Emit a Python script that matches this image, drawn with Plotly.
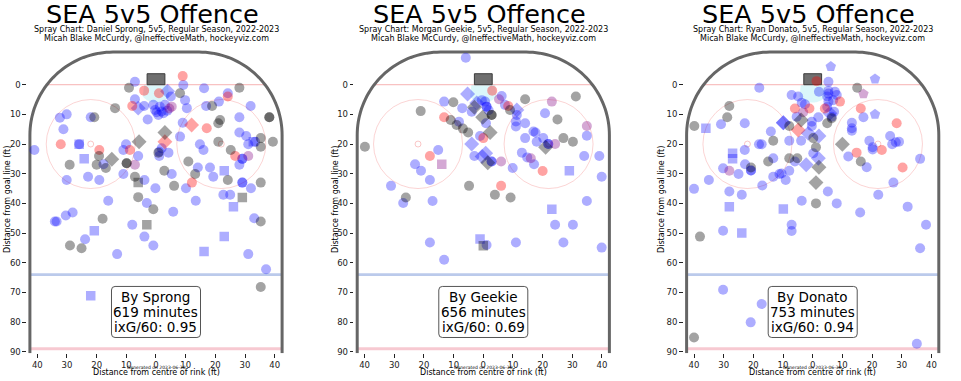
import numpy as np
import plotly.graph_objects as go

# ---------------- data ----------------
team_title = "SEA 5v5 Offence"
players = ["Daniel Sprong", "Morgan Geekie", "Ryan Donato"]
short_names = ["Sprong", "Geekie", "Donato"]
minutes = [619, 656, 753]
ixg60 = [0.95, 0.69, 0.94]
season = "2022-2023"
generated = "Generated on 2023-06-30"
x_tick_vals = [-40, -30, -20, -10, 0, 10, 20, 30, 40]
x_tick_text = ["40", "30", "20", "10", "0", "10", "20", "30", "40"]
y_tick_vals = [0, 10, 20, 30, 40, 50, 60, 70, 80, 90]

# Panel 1 : Sprong  (x = ft from centre, y = ft from goal line)
sprong_blue_circle = [(-7.1,-1.0),(9.2,0.1),(5.0,4.0),(16.2,1.2),(24.2,2.9),(-7.1,4.9),(-4.0,7.2),(-0.9,6.8),(-0.3,8.5),(1.3,7.4),(2.5,9.6),(3.0,6.8),(0.8,10.2),(1.9,9.0),(3.8,8.8),(0.2,9.3),(9.8,5.2),(10.4,7.9),(16.9,7.2),(21.2,5.7),(31.9,7.2),(-30.1,10.0),(-32.4,11.1),(-22.0,11.0),(-2.8,11.7),(9.0,12.8),(28.1,11.0),(-31.2,15.0),(28.1,16.1),(30.4,17.3),(-41.0,22.0),(-25.9,20.1),(-10.1,20.1),(-11.0,22.0),(-6.0,24.0),(-17.7,26.8),(-11.0,30.1),(-3.9,32.1),(-30.1,32.1),(-22.9,31.0),(-19.1,32.1),(1.1,24.0),(1.9,21.4),(1.1,22.6),(4.2,22.9),(5.3,30.1),(-0.2,34.9),(-16.1,39.1),(-3.1,39.9),(5.8,42.8),(8.1,17.5),(10.1,34.9),(13.4,39.1),(14.1,27.9),(14.8,20.1),(16.0,22.0),(18.2,27.9),(19.3,31.0),(29.1,25.0),(29.1,25.0),(28.1,27.0),(29.1,33.0),(29.1,33.0),(22.7,37.1),(25.0,37.1),(32.0,34.9),(31.1,20.1),(33.4,19.2),(-34.1,46.1),(-33.5,46.1),(-30.4,44.1),(-28.1,43.1),(-23.9,52.1),(-8.0,47.2),(-3.9,51.2),(-0.9,54.2),(-13.1,57.1),(33.1,45.0),(31.1,57.1),(37.1,62.2)]
sprong_blue_square = [(-25.9,20.1),(-24.2,25.0),(23.0,29.0),(26.1,41.1),(-20.8,49.2),(16.2,56.2),(23.0,51.2),(-22.0,71.1),(32.8,19.2)]
sprong_blue_diamond = [(-6.0,7.9),(3.9,2.2)]
sprong_red_circle = [(9.0,-2.9),(-4.0,2.0),(1.0,2.9),(24.2,4.0),(-8.0,7.2),(17.1,14.7),(-32.1,20.1),(-19.1,22.0),(-8.8,22.0),(26.7,24.0),(12.1,33.0)]
sprong_red_diamond = [(12.0,13.6),(3.0,19.2)]
sprong_purple_circle = [(5.3,7.4),(31.1,24.0),(-7.1,27.0),(4.5,8.0)]
sprong_grey_circle = [(-9.1,1.0),(8.1,2.9),(28.1,1.0),(18.9,7.2),(-13.8,7.9),(38.2,11.0),(38.2,11.0),(-20.8,11.0),(21.6,11.9),(21.0,13.0),(35.3,18.0),(35.3,20.9),(39.4,19.2),(21.0,19.2),(25.2,22.0),(10.9,25.9),(-19.2,24.0),(-29.1,27.0),(-20.0,27.0),(-16.9,28.1),(-9.9,26.5),(-9.9,26.5),(-7.1,31.0),(0.8,22.9),(2.8,29.0),(6.1,34.1),(-6.0,37.9),(-0.9,42.0),(13.2,30.1),(24.2,32.1),(35.3,33.0),(-18.0,45.2),(-29.0,54.2),(-25.1,55.1),(35.3,46.1),(35.3,68.2)]
sprong_grey_square = [(-6.0,33.0),(29.1,38.0),(-3.1,47.2)]
sprong_grey_diamond = [(3.0,16.1),(-5.7,19.2),(-14.9,25.1)]

# Panel 2 : Geekie
geekie_blue_circle = [(-5.9,-9.1),(6.2,3.8),(-13.2,5.7),(-0.5,5.2),(0.6,5.7),(1.1,7.4),(1.1,7.4),(1.8,8.6),(7.3,6.8),(11.3,10.2),(-7.1,7.9),(-3.9,9.1),(20.8,9.6),(-15.2,22.0),(-23.0,26.8),(-21.0,29.0),(-18.0,32.1),(-31.1,34.1),(-27.0,39.9),(-17.1,39.2),(-3.0,24.0),(2.8,25.9),(2.8,25.9),(-1.1,17.3),(0.9,13.0),(9.9,28.1),(11.0,12.4),(11.0,14.1),(14.1,13.0),(14.1,18.0),(16.9,15.8),(17.6,16.1),(18.0,19.2),(20.2,18.0),(13.0,22.9),(14.8,24.5),(17.1,26.8),(21.9,20.0),(21.9,20.0),(34.0,24.0),(39.1,24.0),(39.9,31.0),(34.9,39.2),(34.9,17.2),(24.2,47.2),(30.2,47.2),(27.0,53.2),(11.0,53.2),(1.1,54.0),(-18.0,53.2),(39.9,54.9),(-13.2,59.0),(-8.2,12.5)]
geekie_blue_diamond = [(-5.3,3.1),(-2.2,6.2),(11.3,8.5),(-3.9,20.0),(-0.4,24.2),(0.8,23.1)]
geekie_blue_square = [(29.0,29.0),(23.1,42.0),(-1.1,52.0)]
geekie_red_circle = [(3.0,2.0),(8.4,7.2),(-13.2,11.0),(-18.0,24.0),(0.0,18.0),(6.0,34.1),(20.0,29.1)]
geekie_purple_circle = [(5.3,4.9),(23.1,5.7),(34.9,13.9),(6.0,25.9),(16.0,24.8),(24.2,20.0)]
geekie_purple_square = [(-14.0,26.8)]
geekie_grey_circle = [(-10.1,5.9),(2.8,10.2),(2.8,10.2),(9.0,8.5),(14.1,4.9),(31.2,4.0),(25.0,11.7),(-21.1,8.9),(-11.0,11.9),(-9.0,13.6),(-6.9,14.8),(-5.1,16.1),(-39.9,20.9),(-26.1,38.0),(-4.8,34.1),(3.9,37.1),(9.2,38.0),(27.0,18.0),(30.2,19.2)]
geekie_grey_diamond = [(-3.0,7.6),(-0.2,11.0),(2.3,16.1),(1.5,26.3),(21.0,21.1)]
geekie_grey_square = [(0.0,54.3)]

# Panel 3 : Donato
donato_blue_pentagon = [(6.1,-6.1),(21.0,-1.9),(21.0,10.0)]
donato_purple_pentagon = [(17.1,3.1)]
donato_blue_circle = [(-18.0,1.0),(5.3,-1.0),(2.1,2.4),(5.3,2.0),(7.5,2.4),(8.1,3.5),(4.9,4.0),(5.3,5.7),(6.9,5.2),(5.3,3.0),(-7.1,3.5),(-4.9,4.0),(-3.7,6.1),(-2.6,6.6),(4.9,7.5),(7.2,9.1),(-5.4,10.8),(1.9,11.0),(-0.3,12.5),(-0.3,13.9),(-7.9,18.9),(-3.9,18.9),(-14.1,15.8),(-22.9,13.0),(-18.1,20.1),(-17.2,20.1),(-22.9,22.0),(0.2,23.1),(-13.3,24.8),(-6.0,25.9),(-20.8,28.9),(-20.8,28.9),(13.2,12.8),(13.2,14.7),(13.2,15.5),(17.1,11.0),(6.4,10.8),(19.1,18.9),(20.2,21.1),(20.2,21.8),(12.0,24.2),(26.1,17.3),(26.8,20.1),(28.0,19.4),(29.1,19.2),(36.2,25.0),(18.2,27.8),(-30.9,13.3),(-30.2,28.2),(-25.0,30.1),(-22.8,26.8),(-10.5,29.9),(-11.2,30.1),(-13.3,31.0),(-7.9,29.0),(-9.1,32.1),(-17.0,34.0),(-28.1,36.0),(-23.9,37.1),(-35.0,32.1),(-40.0,35.1),(-3.7,39.1),(-7.1,47.2),(-7.1,49.3),(-30.2,49.2),(8.1,40.0),(5.1,36.0),(16.0,43.1),(22.1,37.1),(27.2,33.0),(32.0,41.1),(38.2,47.2),(36.2,55.1),(-30.2,69.1),(-17.2,73.9),(-20.9,80.1),(35.1,87.3)]
donato_blue_diamond = [(5.8,9.6),(-9.9,12.8),(-9.9,12.8),(-1.5,16.4),(2.1,17.3),(1.9,24.8),(-2.2,27.0)]
donato_blue_square = [(-36.0,14.7),(-27.0,23.1),(-27.0,25.0),(-28.1,41.1),(-9.9,41.9),(-23.9,50.0)]
donato_red_circle = [(1.3,-1.2),(9.2,5.7),(-6.0,8.0),(-1.1,8.0),(4.1,8.0),(16.2,8.0),(28.3,13.0),(23.3,22.0),(14.8,22.9),(30.3,27.9)]
donato_red_diamond = [(-4.9,15.3)]
donato_purple_circle = [(-3.2,9.3),(-28.1,29.0)]
donato_grey_circle = [(15.0,1.0),(-28.1,7.2),(-28.8,11.0),(-39.9,13.9),(-7.9,13.9),(4.9,13.0),(6.4,11.3),(0.2,18.0),(-13.3,18.9),(1.1,21.1),(-15.0,25.9),(-7.9,24.8),(-5.2,24.8),(16.2,25.9),(-20.8,27.9),(1.1,40.0),(-38.0,51.2),(-40.0,85.2)]
donato_grey_diamond = [(-3.9,11.9),(10.0,20.1),(2.1,27.8),(1.1,33.0)]

panel_series = [
    [("blue", "circle", sprong_blue_circle), ("blue", "square", sprong_blue_square), ("blue", "diamond", sprong_blue_diamond),
     ("red", "circle", sprong_red_circle), ("red", "diamond", sprong_red_diamond), ("purple", "circle", sprong_purple_circle),
     ("grey", "circle", sprong_grey_circle), ("grey", "square", sprong_grey_square), ("grey", "diamond", sprong_grey_diamond)],
    [("blue", "circle", geekie_blue_circle), ("blue", "square", geekie_blue_square), ("blue", "diamond", geekie_blue_diamond),
     ("red", "circle", geekie_red_circle), ("purple", "circle", geekie_purple_circle), ("purple", "square", geekie_purple_square),
     ("grey", "circle", geekie_grey_circle), ("grey", "square", geekie_grey_square), ("grey", "diamond", geekie_grey_diamond)],
    [("blue", "circle", donato_blue_circle), ("blue", "square", donato_blue_square), ("blue", "diamond", donato_blue_diamond),
     ("blue", "pentagon", donato_blue_pentagon), ("purple", "pentagon", donato_purple_pentagon),
     ("red", "circle", donato_red_circle), ("red", "diamond", donato_red_diamond), ("purple", "circle", donato_purple_circle),
     ("grey", "circle", donato_grey_circle), ("grey", "diamond", donato_grey_diamond)],
]

# ---------------- styling ----------------
COLORS = {"blue": "rgba(0,0,255,0.32)", "red": "rgba(255,0,0,0.36)",
          "grey": "rgba(0,0,0,0.36)", "purple": "rgba(128,0,128,0.34)"}
SIZES = {"circle": 10, "square": 9.5, "diamond": 11.5, "pentagon": 11}
FONT = "DejaVu Sans"

W, H = 961, 381
S = 2.967                      # px per ft
centers = [156.0, 483.3, 812.7]
X0, X1 = -43.5, 43.5
YTOP, YBOT = -12.5, 90.5
ZERO_PY = 84.7
top_px = ZERO_PY + YTOP * S
bot_px = ZERO_PY + YBOT * S
ydom = [1 - bot_px / H, 1 - top_px / H]
ylabel_px = [7, 335, 661]

fig = go.Figure()
shapes, annotations = [], []

BOARD = "#666666"
PINK = "rgba(240,120,120,0.45)"


def arc(cx, cy, r, a0, a1, n=40):
    t = np.radians(np.linspace(a0, a1, n))
    return cx + r * np.cos(t), cy - r * np.sin(t)


def path_from(xs, ys, close=False):
    p = "M " + " L ".join(f"{a:.3f},{b:.3f}" for a, b in zip(xs, ys))
    return p + (" Z" if close else "")


for i in range(3):
    sfx = "" if i == 0 else str(i + 1)
    xref, yref = "x" + sfx, "y" + sfx
    c = centers[i]
    left_px = c + X0 * S
    right_px = c + X1 * S
    fig.update_layout(**{
        "xaxis" + sfx: dict(domain=[left_px / W, right_px / W], range=[X0, X1], tickvals=x_tick_vals,
                            ticktext=x_tick_text, ticks="outside", ticklen=3.5, tickwidth=1, tickcolor="#222",
                            showgrid=False, zeroline=False, showline=False, anchor=yref, automargin=False,
                            fixedrange=True, tickfont=dict(size=8.5, color="#222", family=FONT)),
        "yaxis" + sfx: dict(domain=ydom, range=[YBOT, YTOP], tickvals=y_tick_vals, ticks="outside",
                            ticklen=3.5, tickwidth=1, tickcolor="#222", showgrid=False, zeroline=False,
                            showline=False, anchor=xref, automargin=False, fixedrange=True,
                            tickfont=dict(size=8.5, color="#222", family=FONT)),
    })

    # crease
    t = np.radians(np.linspace(180 + 42, 360 - 42, 30))
    xs = np.concatenate([[-4], 6 * np.cos(t), [4]])
    ys = np.concatenate([[0], -6 * np.sin(t), [0]])
    shapes.append(dict(type="path", xref=xref, yref=yref, path=path_from(xs, ys, True),
                       fillcolor="rgba(175,238,245,0.45)", line=dict(width=0), layer="below"))
    # goal line
    shapes.append(dict(type="line", xref=xref, yref=yref, x0=-36.7, x1=36.7, y0=0, y1=0,
                       line=dict(color=PINK, width=1.2), layer="below"))
    # blue line and centre line
    shapes.append(dict(type="line", xref=xref, yref=yref, x0=-42.5, x1=42.5, y0=64, y1=64,
                       line=dict(color="rgba(120,150,215,0.5)", width=2.8), layer="below"))
    shapes.append(dict(type="line", xref=xref, yref=yref, x0=-42.5, x1=42.5, y0=89, y1=89,
                       line=dict(color="rgba(235,120,140,0.4)", width=3.2), layer="below"))
    # faceoff circles and dots
    for fx in (-22, 22):
        shapes.append(dict(type="circle", xref=xref, yref=yref, x0=fx - 15, x1=fx + 15, y0=20 - 15, y1=20 + 15,
                           line=dict(color="rgba(240,100,100,0.35)", width=0.8), layer="below"))
        shapes.append(dict(type="circle", xref=xref, yref=yref, x0=fx - 1, x1=fx + 1, y0=19, y1=21,
                           line=dict(color="rgba(240,100,100,0.45)", width=0.8), layer="below"))
    # boards
    lx, ly = arc(-14.5, 17, 28, 180, 90)
    rx, ry = arc(14.5, 17, 28, 90, 0)
    bx = np.concatenate([[-42.5], lx, rx, [42.5]])
    by = np.concatenate([[YBOT], ly, ry, [YBOT]])
    shapes.append(dict(type="path", xref=xref, yref=yref, path=path_from(bx, by),
                       line=dict(color=BOARD, width=3), layer="below"))
    # goal net
    shapes.append(dict(type="rect", xref=xref, yref=yref, x0=-3, x1=3, y0=-3.7, y1=0,
                       fillcolor="#6f6f6f", line=dict(color="#3c3c3c", width=1), layer="below"))

    # markers
    for col, sym, pts in panel_series[i]:
        fig.add_trace(go.Scatter(x=[p[0] for p in pts], y=[p[1] for p in pts], mode="markers",
                                 xaxis=xref, yaxis=yref, showlegend=False, hoverinfo="skip",
                                 marker=dict(symbol=sym, size=SIZES[sym], color=COLORS[col], line=dict(width=0))))

    # info box
    bx0, bx1, by0, by1, r = -15, 15, 68.0, 85.2, 1.2
    box = (f"M {bx0+r},{by0} L {bx1-r},{by0} Q {bx1},{by0} {bx1},{by0+r} L {bx1},{by1-r} Q {bx1},{by1} {bx1-r},{by1} "
           f"L {bx0+r},{by1} Q {bx0},{by1} {bx0},{by1-r} L {bx0},{by0+r} Q {bx0},{by0} {bx0+r},{by0} Z")
    shapes.append(dict(type="path", xref=xref, yref=yref, path=box, fillcolor="white",
                       line=dict(color="#555", width=1), layer="above"))
    lines = [f"By {short_names[i]}", f"{minutes[i]} minutes", f"ixG/60: {ixg60[i]:.2f}"]
    for txt, ly_ in zip(lines, [71.4, 76.5, 81.7]):
        annotations.append(dict(x=0, y=ly_, xref=xref, yref=yref, text=txt, showarrow=False,
                                font=dict(size=13.5, color="black", family=FONT),
                                xanchor="center", yanchor="middle"))

    # titles
    annotations.append(dict(x=(c - 4) / W, y=1 - 14 / H, xref="paper", yref="paper", text=team_title,
                            showarrow=False, xanchor="center", yanchor="middle",
                            font=dict(size=25.5, color="black", family=FONT)))
    annotations.append(dict(x=c / W, y=1 - 30 / H, xref="paper", yref="paper",
                            text=f"Spray Chart: {players[i]}, 5v5, Regular Season, {season}",
                            showarrow=False, xanchor="center", yanchor="middle",
                            font=dict(size=8, color="black", family=FONT)))
    annotations.append(dict(x=c / W, y=1 - 38.7 / H, xref="paper", yref="paper",
                            text="Micah Blake McCurdy, @IneffectiveMath, hockeyviz.com",
                            showarrow=False, xanchor="center", yanchor="middle",
                            font=dict(size=8, color="black", family=FONT)))
    # axis titles
    annotations.append(dict(x=c / W, y=1 - 372 / H, xref="paper", yref="paper",
                            text="Distance from centre of rink (ft)", showarrow=False,
                            xanchor="center", yanchor="middle",
                            font=dict(size=8, color="black", family=FONT)))
    annotations.append(dict(x=ylabel_px[i] / W, y=1 - 200 / H, xref="paper", yref="paper",
                            text="Distance from goal line (ft)", showarrow=False, textangle=-90,
                            xanchor="center", yanchor="middle",
                            font=dict(size=8, color="black", family=FONT)))
    annotations.append(dict(x=c / W, y=1 - 367.5 / H, xref="paper", yref="paper",
                            text=generated, showarrow=False, xanchor="center", yanchor="middle",
                            font=dict(size=4.5, color="black", family=FONT)))

fig.update_layout(width=W, height=H, margin=dict(l=0, r=0, t=0, b=0, pad=0), autosize=False,
                  paper_bgcolor="white", plot_bgcolor="white", shapes=shapes, annotations=annotations,
                  showlegend=False, hovermode=False)
fig.write_html("out.html", config={"displayModeBar": False, "staticPlot": True},
               post_script="document.body.style.margin='0';document.body.style.overflow='hidden';")
